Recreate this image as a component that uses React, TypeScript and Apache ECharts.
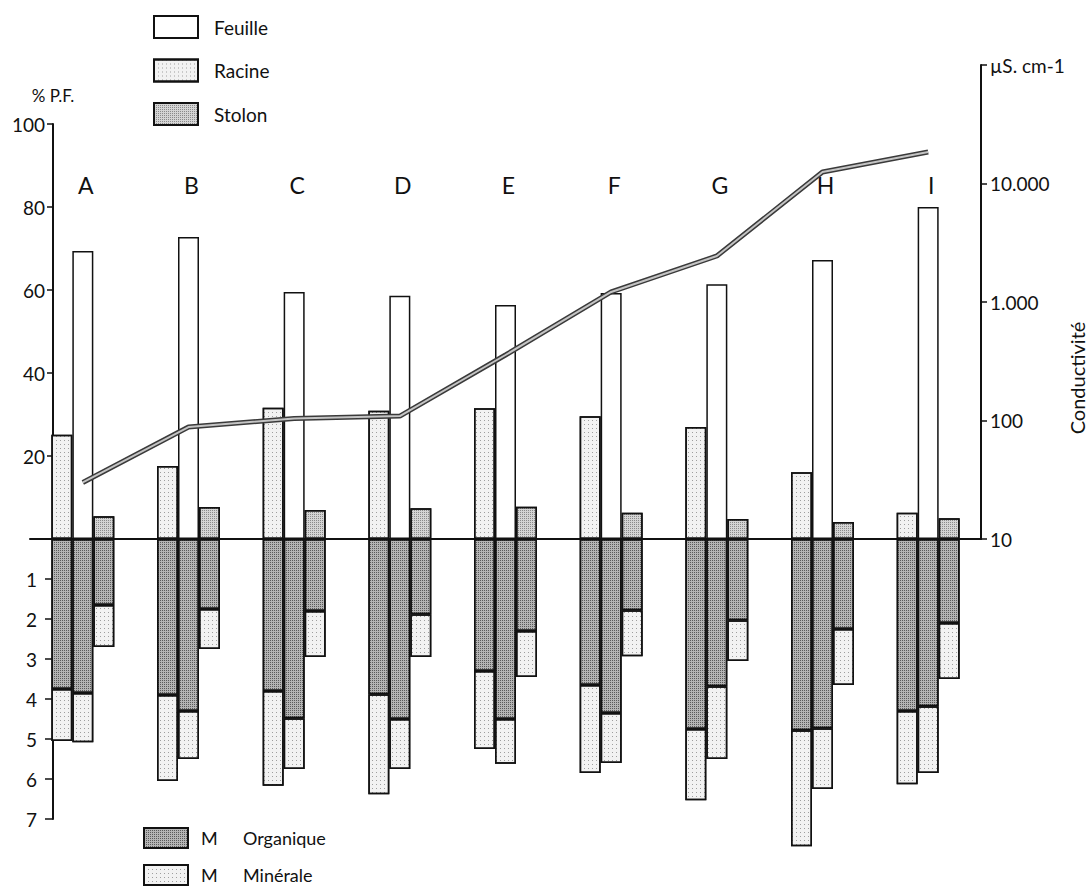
import React, { useEffect, useRef } from 'react';
import * as echarts from 'echarts';

// Sites
const sites = ['A', 'B', 'C', 'D', 'E', 'F', 'G', 'H', 'I'];

// Upper part: % P.F. (fresh weight distribution)
const feuillePct = [69.4, 72.8, 59.5, 58.6, 56.4, 59.3, 61.4, 67.2, 80.0];
const racinePct = [25.1, 17.6, 31.6, 30.9, 31.5, 29.6, 27.0, 16.1, 6.3];
const stolonPct = [5.5, 7.7, 7.0, 7.4, 7.8, 6.3, 4.8, 4.1, 5.0];

// Lower part: organic / mineral matter per organ (left = racine, middle = feuille, right = stolon)
const racineOrg = [3.75, 3.9, 3.8, 3.88, 3.3, 3.65, 4.75, 4.78, 4.3];
const racineMin = [1.3, 2.15, 2.37, 2.5, 1.95, 2.2, 1.78, 2.9, 1.83];
const feuilleOrg = [3.85, 4.3, 4.48, 4.5, 4.5, 4.35, 3.68, 4.73, 4.18];
const feuilleMin = [1.23, 1.2, 1.27, 1.25, 1.12, 1.25, 1.82, 1.52, 1.67];
const stolonOrg = [1.65, 1.75, 1.8, 1.88, 2.3, 1.78, 2.03, 2.25, 2.1];
const stolonMin = [1.05, 1.0, 1.15, 1.07, 1.15, 1.15, 1.02, 1.4, 1.4];

// Conductivity (µS/cm)
const conductivity = [30, 88, 104, 109, 357, 1215, 2445, 12500, 18450];

// Tick labels
const condLabels: Record<number, string> = {
  10: '10',
  100: '100',
  1000: '1.000',
  10000: '10.000',
  100000: 'µS. cm-1',
};

const FONT = 'Lato, "DejaVu Sans", sans-serif';
const INK = '#111';

const lightStyle = {
  color: '#f2f2f2',
  borderColor: INK,
  borderWidth: 1.5,
  decal: {
    symbol: 'rect',
    symbolSize: 1,
    dashArrayX: [1, 3],
    dashArrayY: [1, 3],
    color: 'rgba(0,0,0,0.35)',
  },
};
const whiteStyle = { color: '#ffffff', borderColor: INK, borderWidth: 1.5 };
const stolonStyle = {
  color: '#d4d4d4',
  borderColor: INK,
  borderWidth: 1.5,
  decal: {
    symbol: 'rect',
    symbolSize: 1,
    dashArrayX: [1, 1],
    dashArrayY: [1, 1],
    color: 'rgba(0,0,0,0.35)',
  },
};
const organicStyle = {
  color: '#b4b4b4',
  borderColor: INK,
  borderWidth: 1.5,
  decal: {
    symbol: 'rect',
    symbolSize: 1,
    dashArrayX: [1, 1],
    dashArrayY: [1, 1],
    color: 'rgba(0,0,0,0.5)',
  },
};

const axisLineStyle = { color: INK, width: 2 };

const bottomLegend = (name: string, top: number) => ({
  left: 143,
  top,
  padding: 0,
  orient: 'vertical',
  icon: 'rect',
  itemWidth: 44,
  itemHeight: 20,
  selectedMode: false,
  data: [name],
  formatter: (n: string) => {
    const [m, w] = n.split(' ');
    return `{m|${m}}{w|${w}}`;
  },
  textStyle: {
    fontSize: 18,
    color: INK,
    fontFamily: FONT,
    padding: [0, 0, 0, 8],
    rich: {
      m: { width: 42, fontSize: 18, fontFamily: FONT, color: INK },
      w: { fontSize: 18, fontFamily: FONT, color: INK },
    },
  },
});

export default function App() {
  const ref = useRef<HTMLDivElement>(null);

  useEffect(() => {
    const chart = echarts.init(ref.current!, null, { renderer: 'svg' });
    const barCommon = { barWidth: 21, barGap: '0%', clip: false };
    const option: any = {
      animation: false,
      backgroundColor: '#fff',
      textStyle: { fontFamily: FONT, color: INK },
      grid: [
        { left: 30, top: 124, width: 951, height: 415 },
        { left: 30, top: 539, width: 951, height: 280 },
        { left: 30, top: 65, width: 951, height: 474 },
      ],
      xAxis: [
        {
          gridIndex: 0,
          type: 'category',
          data: sites,
          position: 'bottom',
          axisLine: { show: true, onZero: false, lineStyle: axisLineStyle },
          axisTick: { show: false },
          axisLabel: { show: false },
          splitLine: { show: false },
        },
        { gridIndex: 1, type: 'category', data: sites, show: false },
        {
          gridIndex: 2,
          type: 'category',
          data: sites,
          position: 'top',
          offset: -120,
          axisLine: { show: false },
          axisTick: { show: false },
          splitLine: { show: false },
          axisLabel: {
            margin: 0,
            verticalAlign: 'middle',
            fontSize: 23,
            color: INK,
            fontFamily: FONT,
            padding: [0, 0, 0, 6],
          },
        },
      ],
      yAxis: [
        {
          gridIndex: 0,
          type: 'value',
          min: 0,
          max: 100,
          interval: 20,
          position: 'left',
          offset: -23,
          name: '% P.F.',
          nameLocation: 'end',
          nameGap: 20,
          nameTextStyle: { fontSize: 17, color: INK, fontFamily: FONT, align: 'center' },
          axisLine: { show: true, onZero: false, lineStyle: axisLineStyle },
          axisTick: { show: true, length: 6, lineStyle: { color: INK, width: 1.5 } },
          axisLabel: {
            margin: 8,
            fontSize: 19,
            color: INK,
            fontFamily: FONT,
            formatter: (v: number) => (v === 0 ? '' : String(v)),
          },
          splitLine: { show: false },
        },
        {
          gridIndex: 1,
          type: 'value',
          min: 0,
          max: 7,
          interval: 1,
          inverse: true,
          position: 'left',
          offset: -23,
          axisLine: { show: true, onZero: false, lineStyle: axisLineStyle },
          axisTick: { show: true, length: 8, lineStyle: { color: INK, width: 1.5 } },
          axisLabel: {
            margin: 16,
            fontSize: 19,
            color: INK,
            fontFamily: FONT,
            formatter: (v: number) => (v === 0 ? '' : String(v)),
          },
          splitLine: { show: false },
        },
        {
          gridIndex: 2,
          type: 'log',
          logBase: 10,
          min: 10,
          max: 100000,
          position: 'right',
          axisLine: { show: true, onZero: false, lineStyle: axisLineStyle },
          axisTick: { show: true, length: 6, lineStyle: { color: INK, width: 1.5 } },
          minorTick: { show: false },
          axisLabel: {
            margin: 9,
            fontSize: 19,
            color: INK,
            fontFamily: FONT,
            formatter: (v: number) => condLabels[Math.round(v)] ?? '',
          },
          splitLine: { show: false },
        },
      ],
      legend: [
        {
          left: 153,
          top: 15,
          padding: 0,
          orient: 'vertical',
          icon: 'rect',
          itemWidth: 44,
          itemHeight: 22,
          itemGap: 19.5,
          selectedMode: false,
          data: ['Feuille', 'Racine', 'Stolon'],
          textStyle: { fontSize: 19, color: INK, fontFamily: FONT, padding: [0, 0, 0, 11] },
        },
        bottomLegend('M Organique', 827),
        bottomLegend('M Minérale', 864),
      ],
      graphic: [
        {
          type: 'text',
          x: 1077,
          y: 378,
          rotation: Math.PI / 2,
          style: {
            text: 'Conductivité',
            fontSize: 20,
            fontFamily: FONT,
            fill: INK,
            align: 'center',
            verticalAlign: 'middle',
          },
        },
      ],
      series: [
        { name: 'Racine', type: 'bar', xAxisIndex: 0, yAxisIndex: 0, data: racinePct, itemStyle: lightStyle, ...barCommon },
        { name: 'Feuille', type: 'bar', xAxisIndex: 0, yAxisIndex: 0, data: feuillePct, itemStyle: whiteStyle, ...barCommon },
        { name: 'Stolon', type: 'bar', xAxisIndex: 0, yAxisIndex: 0, data: stolonPct, itemStyle: stolonStyle, ...barCommon },

        { name: 'M Organique', type: 'bar', stack: 'r', xAxisIndex: 1, yAxisIndex: 1, data: racineOrg, itemStyle: organicStyle, ...barCommon },
        { name: 'M Organique', type: 'bar', stack: 'f', xAxisIndex: 1, yAxisIndex: 1, data: feuilleOrg, itemStyle: organicStyle, ...barCommon },
        { name: 'M Organique', type: 'bar', stack: 's', xAxisIndex: 1, yAxisIndex: 1, data: stolonOrg, itemStyle: organicStyle, ...barCommon },
        { name: 'M Minérale', type: 'bar', stack: 'r', xAxisIndex: 1, yAxisIndex: 1, data: racineMin, itemStyle: lightStyle, ...barCommon },
        { name: 'M Minérale', type: 'bar', stack: 'f', xAxisIndex: 1, yAxisIndex: 1, data: feuilleMin, itemStyle: lightStyle, ...barCommon },
        { name: 'M Minérale', type: 'bar', stack: 's', xAxisIndex: 1, yAxisIndex: 1, data: stolonMin, itemStyle: lightStyle, ...barCommon },

        {
          name: 'Conductivité',
          type: 'line',
          xAxisIndex: 2,
          yAxisIndex: 2,
          data: conductivity,
          symbol: 'none',
          z: 5,
          lineStyle: { color: '#3a3a3a', width: 5 },
        },
        {
          name: 'Conductivité (centre)',
          type: 'line',
          xAxisIndex: 2,
          yAxisIndex: 2,
          data: conductivity,
          symbol: 'none',
          z: 6,
          lineStyle: { color: '#c4c4c4', width: 2 },
        },
      ],
    };
    chart.setOption(option);
    return () => chart.dispose();
  }, []);

  return (
    <div
      ref={ref}
      style={{ position: 'absolute', left: 0, top: 0, width: 1091, height: 888, background: '#fff' }}
    />
  );
}
